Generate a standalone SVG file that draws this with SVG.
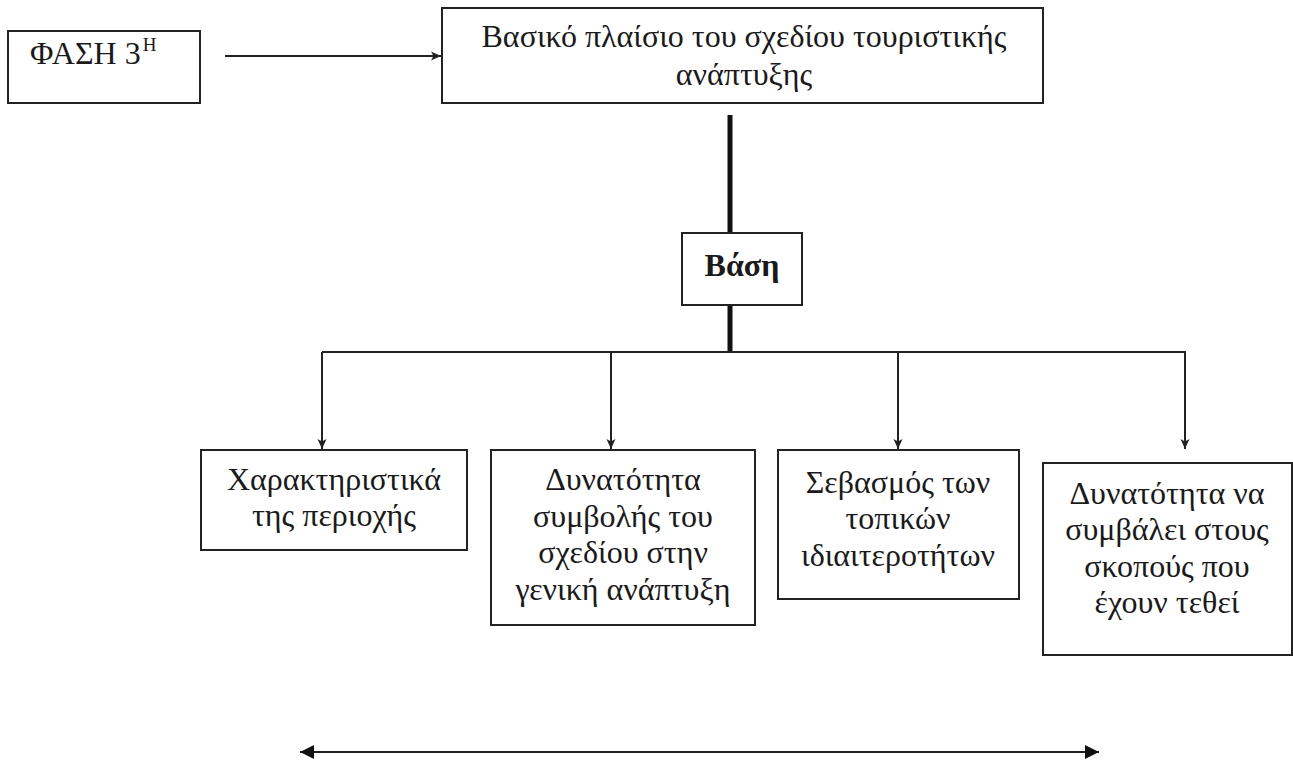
<svg xmlns="http://www.w3.org/2000/svg" width="1293" height="760" viewBox="0 0 1293 760">
<defs>
<style>
.box{fill:#fff;stroke:#222;stroke-width:2}
.t{font-family:"Liberation Serif","Times New Roman",serif;font-size:32px;fill:#1a1a1a;text-anchor:middle}
.ln{stroke:#222;stroke-width:2;fill:none}
.thick{stroke:#111;stroke-width:5;fill:none}
</style>
<marker id="ah" viewBox="0 0 10 10" refX="10" refY="5" markerWidth="10" markerHeight="10" orient="auto" markerUnits="userSpaceOnUse"><path d="M0,0.5 L10,5 L0,9.5 L2.5,5 z" fill="#222"/></marker>
<marker id="ahs" viewBox="0 0 10 10" refX="10" refY="5" markerWidth="14" markerHeight="14" orient="auto-start-reverse" markerUnits="userSpaceOnUse"><path d="M0,0 L10,5 L0,10 z" fill="#111"/></marker>
</defs>
<rect width="1293" height="760" fill="#fff"/>
<g id="connectors">
<line class="ln" x1="225" y1="56" x2="441" y2="56" marker-end="url(#ah)"/>
<line class="thick" x1="730" y1="115" x2="730" y2="233"/>
<line class="thick" x1="730" y1="305" x2="730" y2="353"/>
<polyline class="ln" points="322,352 1185,352 1185,449" marker-end="url(#ah)"/>
<line class="ln" x1="322" y1="352" x2="322" y2="449" marker-end="url(#ah)"/>
<line class="ln" x1="611" y1="352" x2="611" y2="449" marker-end="url(#ah)"/>
<line class="ln" x1="898" y1="352" x2="898" y2="449" marker-end="url(#ah)"/>
<line class="ln" x1="300" y1="752" x2="1099" y2="752" marker-start="url(#ahs)" marker-end="url(#ahs)"/>
</g>
<g id="phase">
<rect class="box" x="8" y="31" width="192" height="72"/>
<text class="t" x="30" y="64" font-size="34" style="text-anchor:start">ΦΑΣΗ 3<tspan dx="2" dy="-13" font-size="19">Η</tspan></text>
</g>
<g id="main">
<rect class="box" x="442" y="8" width="601" height="95"/>
<text class="t" x="744" y="47" font-size="33">Βασικό πλαίσιο του σχεδίου τουριστικής</text>
<text class="t" x="744" y="85" font-size="33">ανάπτυξης</text>
</g>
<g id="vasi">
<rect class="box" x="682" y="233" width="120" height="72"/>
<text class="t" x="742" y="276" font-weight="bold">Βάση</text>
</g>
<g id="n1">
<rect class="box" x="201" y="450" width="266" height="100"/>
<text class="t" x="334" y="490">Χαρακτηριστικά</text>
<text class="t" x="334" y="526">της περιοχής</text>
</g>
<g id="n2">
<rect class="box" x="491" y="450" width="264" height="175"/>
<text class="t" x="623" y="490">Δυνατότητα</text>
<text class="t" x="623" y="527">συμβολής του</text>
<text class="t" x="623" y="563">σχεδίου στην</text>
<text class="t" x="623" y="600">γενική ανάπτυξη</text>
</g>
<g id="n3">
<rect class="box" x="778" y="450" width="241" height="149"/>
<text class="t" x="898" y="493">Σεβασμός των</text>
<text class="t" x="898" y="529">τοπικών</text>
<text class="t" x="898" y="566">ιδιαιτεροτήτων</text>
</g>
<g id="n4">
<rect class="box" x="1043" y="463" width="249" height="192"/>
<text class="t" x="1167" y="504">Δυνατότητα να</text>
<text class="t" x="1167" y="540">συμβάλει στους</text>
<text class="t" x="1167" y="577">σκοπούς που</text>
<text class="t" x="1167" y="613">έχουν τεθεί</text>
</g>
</svg>
